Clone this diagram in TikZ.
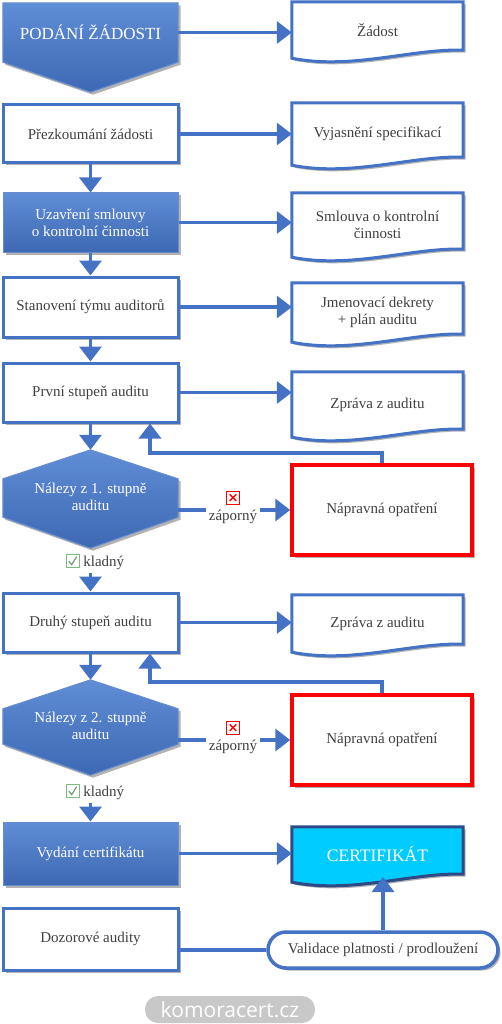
\documentclass[tikz,border=0pt]{standalone}
\usepackage{fontspec}
\setmainfont{Liberation Serif}
\newfontfamily\logofont{Open Sans}
\usetikzlibrary{arrows.meta,calc,shadows,backgrounds}
\definecolor{ob}{HTML}{4472C4}
\definecolor{gtop}{HTML}{5F8DD6}
\definecolor{gbot}{HTML}{3E68B3}
\definecolor{txt}{HTML}{404040}
\definecolor{certc}{HTML}{00CCFF}
\definecolor{navy}{HTML}{2E4A86}
\definecolor{okgreen}{HTML}{7DBB7D}
\definecolor{logogray}{HTML}{C8C8C8}
\newcommand{\docpath}[2]{\path[#2] (#1.north west) -- (#1.north east) -- ($(#1.south east)+(0,-8)$) .. controls +(-50,-2) and +(60,12) .. (#1.south west) -- cycle;}
\newcommand{\hexpath}[2]{\path[#2] (#1.north) -- ($(#1.north east)+(0,29)$) -- ($(#1.south east)+(0,-31)$) -- (#1.south) -- ($(#1.south west)+(0,-31)$) -- ($(#1.north west)+(0,29)$) -- cycle;}
\newcommand{\okicon}{\tikz[x=1pt,y=1pt,baseline=1pt]{\draw[okgreen,line width=0.9pt] (0,0) rectangle (13,13); \draw[okgreen!85!black,line width=1.2pt] (2.5,6.5) -- (5.5,3) -- (10.5,11);}}
\newcommand{\noicon}{\tikz[x=1pt,y=1pt,baseline=1pt]{\draw[red,line width=0.9pt] (0,0) rectangle (13,13); \draw[red,line width=1.3pt] (3.2,3.2) -- (9.8,9.8) (3.2,9.8) -- (9.8,3.2);}}
\begin{document}
\begin{tikzpicture}[x=1pt,y=-1pt,
  font=\fontsize{15}{17}\selectfont, text=txt,
  shad/.style={drop shadow={shadow xshift=2.5pt,shadow yshift=-2.5pt,opacity=.3,fill=black}},
  wbox/.style={draw=ob,line width=3pt,fill=white,minimum width=175pt,inner sep=0pt,align=center,shad},
  bbox/.style={draw=ob!80!white,line width=1pt,top color=gtop,bottom color=gbot,text=white,minimum width=175pt,inner sep=0pt,align=center,shad},
  docn/.style={minimum width=171pt,inner sep=0pt,align=center},
  docshape/.style={draw=ob,line width=3pt,fill=white,shad},
  hexn/.style={minimum width=175pt,inner sep=0pt,align=center,text=white},
  hexshape/.style={draw=ob!80!white,line width=1pt,top color=gtop,bottom color=gbot,shad},
  rbox/.style={draw=red,line width=3.5pt,fill=white,minimum width=180pt,minimum height=90pt,inner sep=0pt,shad},
  ln/.style={draw=ob,line width=3.5pt},
  arr/.style={ln,-{Triangle[width=22pt,length=15pt]}}
]
\useasboundingbox (0,0) rectangle (501,1024);

% left column
\node[hexn,minimum height=59pt,font=\fontsize{17}{18}\selectfont] (p0) at (90.5,32.5) {\raisebox{-4pt}{PODÁNÍ ŽÁDOSTI}};
\node[wbox,minimum height=58pt] (b1) at (90.5,134) {Přezkoumání žádosti};
\node[bbox,minimum height=59pt] (b2) at (90.5,222.5) {Uzavření smlouvy\\o kontrolní činnosti};
\node[wbox,minimum height=60pt] (b3) at (90.5,307) {Stanovení týmu auditorů};
\node[wbox,minimum height=59pt] (b4) at (90.5,392.5) {První stupeň auditu};
\node[hexn,minimum height=98pt] (h1) at (90.5,499) {\raisebox{-5pt}{\begin{tabular}{c}Nálezy z 1. stupně\\auditu\end{tabular}}};
\node (k1) at (95,562) {\okicon\ kladný};
\node[wbox,minimum height=59pt] (b5) at (90.5,622.5) {Druhý stupeň auditu};
\node[hexn,minimum height=95pt] (h2) at (90.5,727.5) {\raisebox{-4pt}{\begin{tabular}{c}Nálezy z 2. stupně\\auditu\end{tabular}}};
\node (k2) at (95,792) {\okicon\ kladný};
\node[bbox,minimum height=63pt] (b6) at (90.5,853.5) {Vydání certifikátu};
\node[wbox,minimum height=62pt] (b7) at (90.5,939) {Dozorové audity};

% right column
\node[docn,minimum height=56pt] (d0) at (377.5,30) {Žádost};
\node[docn,minimum height=62pt] (d1) at (377.5,134) {Vyjasnění specifikací};
\node[docn,minimum height=64pt] (d2) at (377.5,225) {Smlouva o kontrolní\\činnosti};
\node[docn,minimum height=59pt] (d3) at (377.5,312.5) {\raisebox{4pt}{\begin{tabular}{c}Jmenovací dekrety\\+ plán auditu\end{tabular}}};
\node[docn,minimum height=65pt] (d4) at (377.5,404.5) {Zpráva z auditu};
\node[rbox] (n1) at (382,510) {Nápravná opatření};
\node[align=center,inner sep=3pt] (z1) at (233,507) {\noicon\\záporný};
\node[docn,minimum height=57pt] (d5) at (377.5,623.5) {Zpráva z auditu};
\node[rbox] (n2) at (382,740) {Nápravná opatření};
\node[align=center,inner sep=3pt] (z2) at (233,737) {\noicon\\záporný};
\node[docn,minimum height=55pt,text=white,font=\fontsize{17.5}{18}\selectfont] (cert) at (377.5,854.5) {CERTIFIKÁT};
\node[draw=ob,line width=3.5pt,fill=white,rounded corners=18pt,minimum width=230pt,minimum height=36pt,inner sep=0pt,shad] (val) at (383,950) {Validace platnosti / prodloužení};
\coordinate (cb) at (383,877);

\node[fill=logogray,rounded corners=13pt,minimum width=170pt,minimum height=27pt,inner sep=0pt,text=white,font=\logofont\fontsize{21}{21}\selectfont] (logo) at (230,1009.5) {komoracert.cz};

% shapes behind the texts
\begin{scope}[on background layer]
  \path[hexshape] (p0.north west) -- (p0.north east) -- (p0.south east) -- ($(p0.south)+(0,30)$) -- (p0.south west) -- cycle;
  \hexpath{h1}{hexshape}
  \hexpath{h2}{hexshape}
  \docpath{d0}{docshape}
  \docpath{d1}{docshape}
  \docpath{d2}{docshape}
  \docpath{d3}{docshape}
  \docpath{d4}{docshape}
  \docpath{d5}{docshape}
  \docpath{cert}{draw=navy,line width=3pt,fill=certc,shad}
\end{scope}

% connectors
\draw[arr] (p0.east) -- (p0.east -| d0.west);
\draw[arr] (b1.east) -- (b1.east -| d1.west);
\draw[arr] (b2.east) -- (b2.east -| d2.west);
\draw[arr] (b3.east) -- (b3.east -| d3.west);
\draw[arr] (b4.east) -- (b4.east -| d4.west);
\draw[arr] (b5.east) -- (b5.east -| d5.west);
\draw[arr] (b6.east) -- (b6.east -| cert.west);

\draw[arr] (b1.south) -- (b2.north);
\draw[arr] (b2.south) -- (b3.north);
\draw[arr] (b3.south) -- (b4.north);
\draw[arr] (b4.south) -- (h1.north);
\draw[arr] (k1.south -| b5.north) -- (b5.north);
\draw[arr] (b5.south) -- (h2.north);
\draw[arr] (k2.south -| b6.north) -- (b6.north);

\draw[ln] (h1.east |- n1.west) -- (z1.west |- n1.west);
\draw[arr] (z1.east |- n1.west) -- (n1.west);
\draw[ln] (h2.east |- n2.west) -- (z2.west |- n2.west);
\draw[arr] (z2.east |- n2.west) -- (n2.west);

\coordinate (f1) at (150,453);
\coordinate (f2) at (150,682);
\draw[arr] (n1.north) |- (f1) -- (f1 |- b4.south);
\draw[arr] (n2.north) |- (f2) -- (f2 |- b5.south);

\draw[ln] (b7.east |- val.west) -- (val.west);
\draw[arr] (val.north) -- (cb);
\end{tikzpicture}
\end{document}
